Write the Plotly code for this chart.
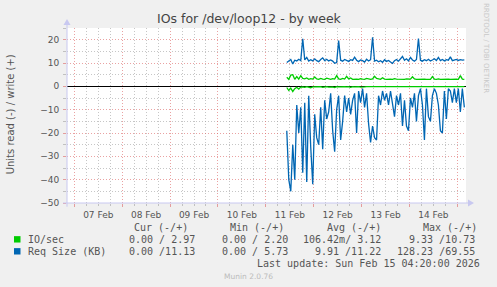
import pandas as pd
import plotly.graph_objects as go

# ---- data (hourly samples, Feb 11 10:30 .. Feb 15 03:30) ----
start_time = "2026-02-11 10:30"
n_points = 90

req_read = [19, 40, 45, 25, 40, 8, 20, 9, 37, 7, 41, 4, 26, 42, 12, 22, 25, 9, 27, 6,
            14, 11, 3, 19, 28, 10, 4, 23, 15, 4, 11, 5, 12, 6, 3, 20, 2, 7, 1, 9,
            3, 16, 24, 17, 22, 23, 4, 8, 2, 6, 3, 8, 2, 7, 13, 4, 8, 3, 17, 6,
            17, 19, 5, 9, 3, 15, 4, 1, 8, 23, 1, 13, 15, 4, 1, 3, 8, 19, 20, 2,
            14, 1, 2, 7, 1, 7, 1, 11, 1, 9]
req_write = [10.2, 10.8, 11.5, 9.6, 11.2, 10.9, 11.6, 11.0, 20.4, 11.3, 12.4, 10.8, 11.4, 10.9, 11.8,
             11.0, 10.6, 11.5, 12.2, 11.0, 11.6, 10.9, 11.3, 10.8, 9.9, 10.2, 19.6, 11.2, 10.8, 11.5,
             11.0, 10.7, 11.4, 11.1, 12.5, 11.2, 10.6, 11.3, 11.0, 10.4, 11.6, 10.9, 11.4, 21.0, 10.8,
             11.2, 10.5, 11.0, 10.3, 11.4, 10.7, 11.1, 10.4, 9.8, 11.0, 11.5, 10.8, 11.6, 12.8, 11.2,
             11.8, 10.9, 12.4, 11.3, 10.8, 11.5, 20.5, 11.2, 10.8, 11.4, 11.0, 11.6, 10.9, 11.3, 11.8,
             11.1, 12.4, 11.0, 11.5, 10.9, 11.4, 11.2, 12.6, 11.0, 11.3, 11.5, 11.1, 11.4, 11.2, 11.3]
io_write = [3.9, 3.0, 4.8, 5.0, 3.0, 4.2, 3.1, 4.6, 3.4, 3.2, 3.6, 3.0, 3.3, 3.1, 4.0,
            3.2, 3.0, 3.4, 3.1, 3.0, 3.5, 3.2, 3.0, 3.3, 3.1, 4.6, 3.2, 3.0, 3.4, 3.1,
            4.3, 3.2, 3.6, 3.0, 3.2, 3.1, 3.0, 3.3, 3.1, 3.0, 3.4, 3.1, 3.0, 3.2, 4.3,
            3.4, 3.1, 3.0, 3.7, 3.1, 3.0, 3.2, 3.1, 3.0, 3.3, 3.1, 3.0, 3.2, 3.1, 3.0,
            3.2, 3.0, 3.1, 4.1, 3.2, 3.0, 3.1, 3.0, 3.2, 3.1, 3.0, 3.1, 3.0, 4.2, 3.1,
            3.0, 3.2, 3.0, 3.1, 3.0, 3.0, 3.1, 3.0, 3.1, 3.0, 3.1, 3.0, 4.6, 3.1, 3.0]
io_read = [0.5, 1.8, 0.8, 2.2, 1.0, 0.4, 1.2, 0.3, 0.2, 0.4, 0.1, 0.3, 0.6, 0.2, 0.1,
           0.3, 0.2, 0.1, 0.4, 0.2, 0.1, 0.3, 0.1, 0.2, 0.5, 0.1, 0.2, 0.1, 0.3, 0.1,
           0.2, 0.1, 0.4, 0.1, 0.2, 0.1, 0.1, 0.3, 0.1, 0.2, 0.1, 0.1, 0.3, 0.2, 0.1,
           0.4, 0.1, 0.2, 0.1, 0.1, 0.2, 0.1, 0.3, 0.1, 0.1, 0.2, 0.1, 0.1, 0.3, 0.1,
           0.2, 0.1, 0.1, 0.2, 0.1, 0.3, 0.1, 0.1, 0.2, 0.1, 0.1, 0.2, 0.1, 0.3, 0.1,
           0.1, 0.2, 0.1, 0.1, 0.2, 0.1, 0.1, 0.3, 0.1, 0.1, 0.2, 0.1, 0.1, 0.2, 0.1]

series_names = ["IO/sec", "Req Size (KB)"]
series_colors = ["#00CC00", "#0066B3"]
col_headers = ["Cur (-/+)", "Min (-/+)", "Avg (-/+)", "Max (-/+)"]
legend_values = [
    ["0.00 / 2.97", "0.00 / 2.20", "106.42m/ 3.12", "9.33 /10.73"],
    ["0.00 /11.13", "0.00 / 5.73", "9.91 /11.22", "128.23 /69.55"],
]
title_text = "IOs for /dev/loop12 - by week"
ytitle_text = "Units read (-) / write (+)"
last_update = "Last update: Sun Feb 15 04:20:00 2026"
x_range = ["2026-02-06 20:20", "2026-02-15 04:20"]
y_range = [-50, 25]

times = pd.date_range(start_time, periods=n_points, freq="h")

# ---- layout geometry (pixels) ----
W, H = 497, 287
L, R, T, B = 67, 466, 28, 203.3


def px(x):
    return (x - L) / (R - L)


def py(y):
    return (B - y) / (B - T)


fig = go.Figure()
line_w = 1.3
fig.add_trace(go.Scatter(x=times, y=[-v for v in io_read], mode="lines",
                         line=dict(color=series_colors[0], width=line_w), showlegend=False))
fig.add_trace(go.Scatter(x=times, y=io_write, mode="lines",
                         line=dict(color=series_colors[0], width=line_w), showlegend=False))
fig.add_trace(go.Scatter(x=times, y=[-v for v in req_read], mode="lines",
                         line=dict(color=series_colors[1], width=line_w), showlegend=False))
fig.add_trace(go.Scatter(x=times, y=req_write, mode="lines",
                         line=dict(color=series_colors[1], width=line_w), showlegend=False))

major_grid = "rgba(220,100,100,0.6)"
minor_grid = "rgba(160,160,160,0.6)"
dash = "1px,2px"
tick_font = dict(family="DejaVu Sans", size=9, color="#555555")

fig.update_xaxes(
    type="date", range=x_range, dtick=86400000, tick0="2026-02-07",
    tickformat="%d %b", ticklabelmode="period",
    showgrid=True, gridcolor=major_grid, griddash=dash, gridwidth=1,
    minor=dict(dtick=6 * 3600000, showgrid=True, gridcolor=minor_grid, griddash=dash,
               ticks="outside", ticklen=2, tickcolor=minor_grid),
    ticks="outside", ticklen=3, tickcolor=major_grid,
    showline=False, zeroline=False, tickfont=tick_font, fixedrange=True,
)
fig.update_yaxes(
    range=y_range, dtick=10, tick0=0,
    showgrid=True, gridcolor=major_grid, griddash=dash, gridwidth=1,
    minor=dict(dtick=5, showgrid=True, gridcolor=minor_grid, griddash=dash,
               ticks="outside", ticklen=3, tickcolor=minor_grid),
    ticks="outside", ticklen=3, tickcolor=major_grid,
    zeroline=True, zerolinecolor="#000000", zerolinewidth=1,
    showline=False, tickfont=tick_font, fixedrange=True, ticklabelstandoff=2,
)

axis_col = "#C8C8F0"
shapes = [
    # y axis line and arrow
    dict(type="line", xref="paper", yref="paper", x0=px(L), x1=px(L), y0=py(207), y1=py(24),
         line=dict(color=axis_col, width=1)),
    dict(type="path", xref="paper", yref="paper",
         path=f"M {px(L-3.5)} {py(25)} L {px(L+3.5)} {py(25)} L {px(L)} {py(19)} Z",
         fillcolor=axis_col, line=dict(width=0)),
    # x axis line and arrow
    dict(type="line", xref="paper", yref="paper", x0=px(63), x1=px(469), y0=0, y1=0,
         line=dict(color=axis_col, width=1)),
    dict(type="path", xref="paper", yref="paper",
         path=f"M {px(468)} {py(B-3.5)} L {px(468)} {py(B+3.5)} L {px(474)} {py(B)} Z",
         fillcolor=axis_col, line=dict(width=0)),
]

ann = []


def text(x, y, s, size=10, color="#555555", family="DejaVu Sans Mono", anchor="left", angle=0):
    ann.append(dict(xref="paper", yref="paper", x=px(x), y=py(y), text=s, showarrow=False,
                    xanchor=anchor, yanchor="middle", textangle=angle,
                    font=dict(family=family, size=size, color=color)))


text(249, 18.5, title_text, size=12.5, color="#444444", family="DejaVu Sans", anchor="center")
text(10.5, 115, ytitle_text, size=10, color="#555555", family="DejaVu Sans", anchor="center", angle=-90)
text(486, 48, "RRDTOOL / TOBI OETIKER", size=7, color="#C8C8C8", family="DejaVu Sans",
     anchor="center", angle=90)

header_centers = [161, 257, 353.5, 449.5]
value_right = [197, 290, 383, 477]
for c, h in zip(header_centers, col_headers):
    text(c, 227.5, h, anchor="center")
row_y = [239.7, 251.7]
for i, name in enumerate(series_names):
    text(26, row_y[i], name)
    for j, v in enumerate(legend_values[i]):
        text(value_right[j], row_y[i], v, anchor="right")
    shapes.append(dict(type="rect", xref="paper", yref="paper",
                       x0=px(14), x1=px(20.5), y0=py(row_y[i] - 3.2), y1=py(row_y[i] + 3.2),
                       fillcolor=series_colors[i], line=dict(width=0)))
text(482, 263.5, last_update, anchor="right")
text(248, 276.5, "Munin 2.0.76", size=7.5, color="#BBBBBB", family="DejaVu Sans", anchor="center")

fig.update_layout(
    width=W, height=H,
    margin=dict(l=L, r=W - R, t=T, b=H - B),
    paper_bgcolor="#F0F0F0", plot_bgcolor="#FFFFFF",
    showlegend=False, shapes=shapes, annotations=ann,
    font=dict(family="DejaVu Sans", color="#555555"),
)

fig.write_html("out.html")
